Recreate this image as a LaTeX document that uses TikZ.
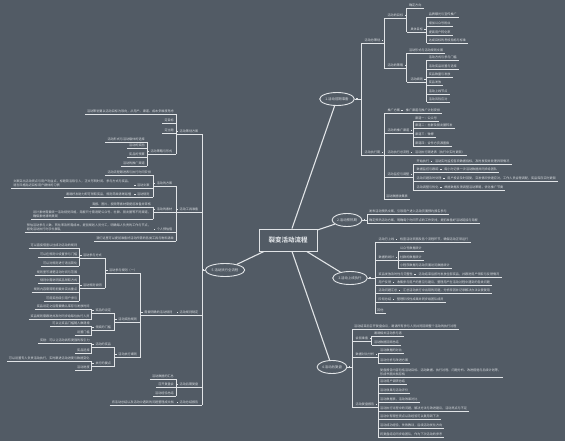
\documentclass[tikz,border=0pt]{standalone}
\usepackage{fontspec}
\usepackage{tikz}
\usetikzlibrary{shapes.geometric, arrows, positioning}
\newfontfamily\cjk{Noto Sans CJK SC}
\definecolor{bg}{HTML}{525B65}
\definecolor{lnc}{HTML}{E1E4E7}
\definecolor{txc}{HTML}{D8DCE0}

\begin{document}
\begin{tikzpicture}[x=1pt, y=1pt]
    % 定义样式
    \tikzstyle{root} = [rectangle, draw=lnc, line width=1pt, fill=bg, minimum width=58pt, minimum height=22pt, font=\cjk\bfseries\fontsize{6.5}{7}\selectfont, text=txc]
    \tikzstyle{branch} = [ellipse, draw=lnc, line width=0.9pt, fill=bg, inner sep=0.6pt, minimum height=13pt, font=\cjk\fontsize{3.4}{4}\selectfont, text=txc]
    \tikzstyle{knob} = [rectangle, fill=lnc, inner sep=0pt, minimum size=1.7pt]
    \tikzstyle{rbranch} = [branch, label={[knob, label distance=1pt]east:{}}]
    \tikzstyle{lbranch} = [branch, label={[knob, label distance=1pt]west:{}}]
    \tikzstyle{uline} = [draw=lnc, line width=0.7pt]
    \tikzstyle{leaf} = [inner xsep=2pt, inner ysep=0.8pt, anchor=south west, align=left, font=\cjk\fontsize{3.1}{4.6}\selectfont, text=txc, append after command={(\tikzlastnode.south west) edge[uline] (\tikzlastnode.south east)}]
    \tikzstyle{lleaf} = [leaf, anchor=south east]
    \tikzstyle{hub} = [leaf, inner xsep=3.5pt, label={[knob, label distance=-2.5pt]east:{}}]
    \tikzstyle{lhub} = [leaf, anchor=south east, inner xsep=3.5pt, label={[knob, label distance=-2.5pt]west:{}}]
    \tikzstyle{main} = [draw=lnc, line width=1.1pt]
    \tikzstyle{link} = [draw=lnc, line width=0.7pt]

    \fill [bg] (0,0) rectangle (565,-441);
    \useasboundingbox (0,0) rectangle (565,-441);

    % 节点
    \node (root) [root] at (288,-240) {裂变活动流程};

    % 1.活动前期准备
    \node (pre) [rbranch] at (337,-99) {1.活动前期准备};
    \node (plan) [hub] at (361,-43) {活动总策划};
    \node (goal) [hub] at (plan.south east |- 0,-18) {活动的目标};
    \node (goal1) [leaf] at (goal.south east |- 0,-8) {确定方向};
    \node (goal2) [hub] at (goal.south east |- 0,-32) {具体目标};
    \node (kpi1) [leaf] at (goal2.south east |- 0,-17) {品牌曝光与宣传推广};
    \node (kpi2) [leaf] at (goal2.south east |- 0,-26) {增加公众号粉丝};
    \node (kpi3) [leaf] at (goal2.south east |- 0,-35) {提高用户转化率};
    \node (kpi4) [leaf] at (goal2.south east |- 0,-43) {达成目标的考核指标与标准};
    \node (tac) [hub] at (plan.south east |- 0,-68) {活动的策略};
    \node (tac1) [leaf] at (tac.south east |- 0,-53) {活动形式与活动规则文案};
    \node (tac2) [hub] at (tac.south east |- 0,-82) {活动细则};
    \node (rule1) [leaf] at (tac2.south east |- 0,-60) {活动方式与参与门槛};
    \node (rule2) [leaf] at (tac2.south east |- 0,-69) {活动奖品设置与选择};
    \node (rule3) [leaf] at (tac2.south east |- 0,-77) {奖品数量与发放};
    \node (rule4) [leaf] at (tac2.south east |- 0,-85) {奖品发放};
    \node (rule5) [leaf] at (tac2.south east |- 0,-94) {活动上线节点};
    \node (rule6) [leaf] at (tac2.south east |- 0,-102) {活动风险应对};
    \node (exe) [hub] at (361,-155) {活动执行期};
    \node (promo) [hub] at (exe.south east |- 0,-113) {推广方案};
    \node (promo1) [leaf] at (promo.south east) {推广渠道与推广计划安排};
    \node (chan) [hub] at (exe.south east |- 0,-133) {活动的推广渠道};
    \node (chan1) [leaf] at (chan.south east |- 0,-121) {渠道一：公众号};
    \node (chan2) [leaf] at (chan.south east |- 0,-128) {渠道二：社群及朋友圈转发};
    \node (chan3) [leaf] at (chan.south east |- 0,-137) {渠道三：微博};
    \node (chan4) [leaf] at (chan.south east |- 0,-146) {渠道四：合作方资源置换};
    \node (flow) [hub] at (exe.south east) {活动执行总流程};
    \node (flow1) [leaf] at (flow.south east) {活动执行跟进表（执行中实时更新）};
    \node (watch) [hub] at (exe.south east |- 0,-177) {活动监控与调整};
    \node (watch1) [hub] at (watch.south east |- 0,-164) {开始执行};
    \node (note1) [leaf] at (watch1.south east) {活动实时监控各项数据指标，及时发现并处理异常情况};
    \node (watch2) [hub] at (watch.south east |- 0,-172) {数据监控与跟踪};
    \node (note2) [leaf] at (watch2.south east) {每小时记录一次活动数据并同步给团队};
    \node (watch3) [hub] at (watch.south east |- 0,-181) {活动问题及时处理};
    \node (note3) [leaf] at (watch3.south east) {用户投诉及时回复，突发情况快速应对，工作人员合理调配，奖品库存实时更新};
    \node (watch4) [hub] at (watch.south east |- 0,-190) {活动调整与优化};
    \node (note4) [leaf] at (watch4.south east) {根据数据反馈调整活动策略，优化推广节奏};
    \node (coll) [leaf] at (exe.south east |- 0,-199) {活动数据收集表};

    % 2.活动预热期
    \node (warm) [rbranch] at (347,-220) {2.活动预热期};
    \node (warm1) [leaf] at (367,-214) {发布活动预热文案，引导用户进入活动页面预约报名参与};
    \node (warm2) [leaf] at (367,-223) {确定预热活动方案，明确每个时间节点的工作安排，提前准备好活动链接与海报};

    % 3.活动上线执行
    \node (live) [rbranch] at (350,-278) {3.活动上线执行};
    \node (online) [hub] at (375,-242) {活动已上线};
    \node (online1) [leaf] at (online.south east) {检查活动页面及各个流程环节，确保活动正常运行};
    \node (stat) [hub] at (375,-260) {数据的统计};
    \node (stat1) [leaf] at (stat.south east |- 0,-251) {公众号数据统计};
    \node (stat2) [leaf] at (stat.south east |- 0,-260) {社群的数据统计};
    \node (stat3) [leaf] at (stat.south east |- 0,-268) {小程序数据与活动页面访问数据统计};
    \node (gift) [hub] at (375,-277) {奖品发放及时性与完整性};
    \node (gift1) [leaf] at (gift.south east) {活动结束后按时发放全部奖品，并跟进用户领取与反馈情况};
    \node (voice) [hub] at (375,-285) {用户反馈};
    \node (voice1) [leaf] at (voice.south east) {收集参与用户的意见与建议，整理用户在活动过程中遇到的各类问题};
    \node (issue) [hub] at (375,-293) {活动问题汇总};
    \node (issue1) [leaf] at (issue.south east) {汇总活动执行中出现的问题，分析原因并记录解决办法以便复用};
    \node (phase) [hub] at (375,-302) {阶段总结};
    \node (phase1) [leaf] at (phase.south east) {整理阶段性成果并同步给团队成员};
    \node (other) [leaf] at (375,-313) {其他};

    % 4.活动后复盘
    \node (rev) [rbranch] at (332,-367) {4.活动后复盘};
    \node (rev1) [leaf] at (352,-329) {活动结束后召开复盘会议，邀请所有参与人员共同回顾整个活动的执行过程};
    \node (meet) [hub] at (352,-341) {会前准备};
    \node (meet1) [leaf] at (meet.south east |- 0,-336) {邀请相关活动参与者};
    \node (meet2) [leaf] at (meet.south east |- 0,-345) {活动数据回顾总结};
    \node (cmp) [hub] at (352,-357) {数据对比分析};
    \node (cmp1) [leaf] at (cmp.south east |- 0,-353) {活动数据的对比};
    \node (cmp2) [leaf] at (cmp.south east |- 0,-363) {活动分析与改进方案};
    \node (report) [hub] at (352,-407) {活动复盘报告};
    \node (rep1) [leaf] at (report.south east |- 0,-377) {复盘报告内容包括活动目标、活动数据、执行过程、问题分析、改进措施与后续计划等，\\形成书面文档存档};
    \node (rep2) [leaf] at (report.south east |- 0,-384) {活动用户调研总结};
    \node (rep3) [leaf] at (report.south east |- 0,-393) {活动效果与活动评价};
    \node (rep4) [leaf] at (report.south east |- 0,-402) {活动数据表，活动效果对比};
    \node (rep5) [leaf] at (report.south east |- 0,-411) {活动执行过程中的问题，解决方法与改进建议，活动亮点与不足};
    \node (rep6) [leaf] at (report.south east |- 0,-419) {活动中有哪些亮点以及经验可以复用到下次};
    \node (rep7) [leaf] at (report.south east |- 0,-428) {活动成功经验，失败教训，后续活动优化方向};
    \node (rep8) [leaf] at (report.south east |- 0,-437) {将复盘结论同步给团队，作为下次活动的参考};

    % 5.活动执行全流程
    \node (run) [lbranch] at (225,-270) {5.活动执行全流程};
    \node (lplan) [lhub] at (202,-134) {活动策划方案};
    \node (lplan1) [lleaf] at (lplan.south west |- 0,-114) {活动策划要以活动目标为导向，从用户、渠道、成本多维度考虑};
    \node (lplan2) [lleaf] at (lplan.south west |- 0,-123) {定目标};
    \node (lplan3) [lleaf] at (lplan.south west |- 0,-133) {定主题};
    \node (way) [lhub] at (lplan.south west |- 0,-154) {活动策略与形式};
    \node (way1) [lleaf] at (way.south west |- 0,-142) {活动形式与活动载体的选择};
    \node (way2) [lleaf] at (way.south west |- 0,-148) {活动的奖励};
    \node (way3) [lleaf] at (way.south west |- 0,-157) {奖品的预算};
    \node (way4) [lleaf] at (way.south west |- 0,-166) {活动的推广渠道};
    \node (ltool) [lhub] at (202,-212) {活动工具准备};
    \node (case) [lhub] at (ltool.south west |- 0,-186) {活动的方案};
    \node (case1) [lleaf] at (case.south west |- 0,-175) {活动流程跟进表与执行时间安排};
    \node (copy) [lhub] at (case.south west |- 0,-188) {活动文案};
    \node (copy1) [lleaf] at (copy.south west) {文案突出活动亮点与用户利益点，标题简洁吸引人，正文写明时间、参与方式与奖品，\\语言风格贴近目标用户群体的习惯};
    \node (law) [lhub] at (case.south west |- 0,-197) {活动规则};
    \node (law1) [lleaf] at (law.south west) {邀请好友助力即可领取奖品，规则简单清晰易懂};
    \node (asset) [lhub] at (ltool.south west) {活动的素材};
    \node (asset1) [lleaf] at (asset.south west |- 0,-207) {海报、图片、视频等素材需提前准备并审核};
    \node (asset2) [lleaf] at (asset.south west |- 0,-219) {设计素材需要统一活动视觉风格，海报尺寸需适配公众号、社群、朋友圈等不同渠道，\\确保素材清晰美观};
    \node (guess) [lhub] at (ltool.south west |- 0,-232) {个人预估值};
    \node (guess1) [lleaf] at (guess.south west) {预估活动参与人数、转化率及所需成本，提前规划人员分工，明确每人负责的工作与节点，\\避免活动执行时手忙脚乱};
    \node (kit) [lleaf] at (ltool.south west |- 0,-241) {我们这里可以提前准备好活动所需的各类工具与物料清单};
    \node (lrule) [lhub] at (202,-315) {活动规则制定};
    \node (need) [lhub] at (lrule.south west) {需要明确的活动规则};
    \node (join) [lhub] at (need.south west |- 0,-273) {活动参与规则（一）};
    \node (mode) [lhub] at (join.south west |- 0,-258) {活动参与方式};
    \node (mode1) [lleaf] at (mode.south west |- 0,-248) {可以直接借鉴以往成功活动的规则};
    \node (mode2) [lleaf] at (mode.south west |- 0,-257) {可以在规则中设置参与门槛};
    \node (mode3) [lleaf] at (mode.south west |- 0,-266) {可以对规则进行适当简化};
    \node (desc) [lhub] at (join.south west |- 0,-288) {活动规则说明};
    \node (desc1) [lleaf] at (desc.south west |- 0,-275) {规则里写清楚活动时间与范围};
    \node (desc2) [lleaf] at (desc.south west |- 0,-283) {规则中需说明奖品领取方式};
    \node (desc3) [lleaf] at (desc.south west |- 0,-292) {规则内容需简明扼要并突出重点};
    \node (desc4) [lleaf] at (desc.south west |- 0,-301) {可用奖励吸引用户参与};
    \node (award) [lhub] at (need.south west |- 0,-322) {活动奖励规则};
    \node (prize) [lhub] at (award.south west |- 0,-313) {奖品的设定};
    \node (prize1) [lleaf] at (prize.south west |- 0,-309) {奖品设定之后需要确认库存与发放时间};
    \node (prize2) [lleaf] at (prize.south west |- 0,-319) {奖品规则需跟进并及时同步给每位执行人员};
    \node (bar) [lhub] at (award.south west |- 0,-330) {领奖的门槛};
    \node (bar1) [lleaf] at (bar.south west |- 0,-326) {可以让奖品门槛随人数递增};
    \node (bar2) [lleaf] at (bar.south west |- 0,-335) {设置门槛};
    \node (act) [lhub] at (need.south west |- 0,-357) {活动执行细则};
    \node (gain) [lhub] at (act.south west |- 0,-347) {活动的奖品};
    \node (gain1) [lleaf] at (gain.south west |- 0,-343) {奖励：可以让活动具有更强的吸引力};
    \node (gain2) [lleaf] at (gain.south west |- 0,-353) {奖品选择};
    \node (key) [lhub] at (act.south west |- 0,-366) {执行的要点};
    \node (key1) [lleaf] at (key.south west |- 0,-361) {可以设置专人负责活动执行，实时跟进活动进度与数据变化};
    \node (key2) [lleaf] at (key.south west |- 0,-370) {活动进度};
    \node (lrev) [lhub] at (202,-387) {活动后期复盘};
    \node (lrev1) [lleaf] at (lrev.south west |- 0,-379) {活动数据的汇总};
    \node (lrev2) [lleaf] at (lrev.south west |- 0,-387) {召开复盘会};
    \node (lrev3) [lleaf] at (lrev.south west |- 0,-396) {活动经验总结};
    \node (lend) [lhub] at (202,-405) {活动总结报告};
    \node (lend1) [lleaf] at (lend.south west) {将活动总结以及活动中遇到的问题整理成文档};

    % 连接线
    \foreach \n in {pre, warm, live, rev, run} \draw [main] (root) -- (\n);

    \foreach \n in {plan, exe} \draw [link] (pre.east) -| (\n.south west);
    \foreach \n in {goal, tac} \draw [link] (plan.south east) -| (\n.south west);
    \foreach \n in {goal1, goal2} \draw [link] (goal.south east) -| (\n.south west);
    \foreach \n in {kpi1, kpi2, kpi3, kpi4} \draw [link] (goal2.south east) -| (\n.south west);
    \foreach \n in {tac1, tac2} \draw [link] (tac.south east) -| (\n.south west);
    \foreach \n in {rule1, rule2, rule3, rule4, rule5, rule6} \draw [link] (tac2.south east) -| (\n.south west);
    \foreach \n in {promo, chan, flow, watch, coll} \draw [link] (exe.south east) -| (\n.south west);
    \draw [link] (promo.south east) -- (promo1.south west);
    \foreach \n in {chan1, chan2, chan3, chan4} \draw [link] (chan.south east) -| (\n.south west);
    \draw [link] (flow.south east) -- (flow1.south west);
    \foreach \n in {watch1, watch2, watch3, watch4} \draw [link] (watch.south east) -| (\n.south west);
    \foreach \a/\b in {watch1/note1, watch2/note2, watch3/note3, watch4/note4} \draw [link] (\a.south east) -- (\b.south west);

    \foreach \n in {warm1, warm2} \draw [link] (warm.east) -| (\n.south west);

    \foreach \n in {online, stat, gift, voice, issue, phase, other} \draw [link] (live.east) -| (\n.south west);
    \foreach \a/\b in {online/online1, gift/gift1, voice/voice1, issue/issue1, phase/phase1} \draw [link] (\a.south east) -- (\b.south west);
    \foreach \n in {stat1, stat2, stat3} \draw [link] (stat.south east) -| (\n.south west);

    \foreach \n in {rev1, meet, cmp, report} \draw [link] (rev.east) -| (\n.south west);
    \foreach \n in {meet1, meet2} \draw [link] (meet.south east) -| (\n.south west);
    \foreach \n in {cmp1, cmp2} \draw [link] (cmp.south east) -| (\n.south west);
    \foreach \n in {rep1, rep2, rep3, rep4, rep5, rep6, rep7, rep8} \draw [link] (report.south east) -| (\n.south west);

    \foreach \n in {lplan, ltool, lrule, lrev, lend} \draw [link] (run.west) -| (\n.south east);
    \foreach \n in {lplan1, lplan2, lplan3, way} \draw [link] (lplan.south west) -| (\n.south east);
    \foreach \n in {way1, way2, way3, way4} \draw [link] (way.south west) -| (\n.south east);
    \foreach \n in {case, asset, guess, kit} \draw [link] (ltool.south west) -| (\n.south east);
    \foreach \n in {case1, copy, law} \draw [link] (case.south west) -| (\n.south east);
    \foreach \a/\b in {copy/copy1, law/law1, guess/guess1, lrule/need, lend/lend1} \draw [link] (\a.south west) -- (\b.south east);
    \foreach \n in {asset1, asset2} \draw [link] (asset.south west) -| (\n.south east);
    \foreach \n in {join, award, act} \draw [link] (need.south west) -| (\n.south east);
    \foreach \n in {mode, desc} \draw [link] (join.south west) -| (\n.south east);
    \foreach \n in {mode1, mode2, mode3} \draw [link] (mode.south west) -| (\n.south east);
    \foreach \n in {desc1, desc2, desc3, desc4} \draw [link] (desc.south west) -| (\n.south east);
    \foreach \n in {prize, bar} \draw [link] (award.south west) -| (\n.south east);
    \foreach \n in {prize1, prize2} \draw [link] (prize.south west) -| (\n.south east);
    \foreach \n in {bar1, bar2} \draw [link] (bar.south west) -| (\n.south east);
    \foreach \n in {gain, key} \draw [link] (act.south west) -| (\n.south east);
    \foreach \n in {gain1, gain2} \draw [link] (gain.south west) -| (\n.south east);
    \foreach \n in {key1, key2} \draw [link] (key.south west) -| (\n.south east);
    \foreach \n in {lrev1, lrev2, lrev3} \draw [link] (lrev.south west) -| (\n.south east);
\end{tikzpicture}
\end{document}
